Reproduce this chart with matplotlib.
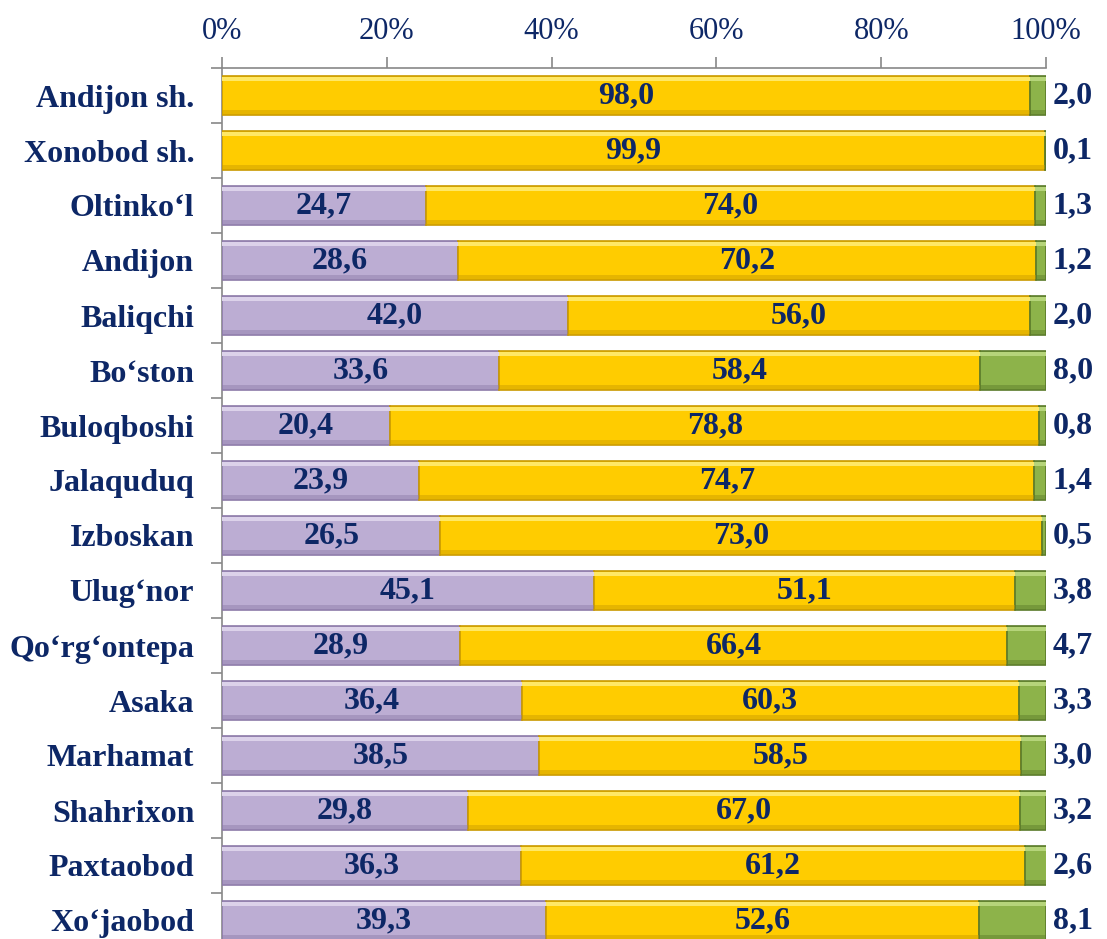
import matplotlib
matplotlib.use("Agg")
import matplotlib.pyplot as plt
import numpy as np

categories = ["Andijon sh.", "Xonobod sh.", "Oltinko‘l", "Andijon", "Baliqchi", "Bo‘ston",
              "Buloqboshi", "Jalaquduq", "Izboskan", "Ulug‘nor", "Qo‘rg‘ontepa", "Asaka",
              "Marhamat", "Shahrixon", "Paxtaobod", "Xo‘jaobod"]
purple_vals = [0.0, 0.0, 24.7, 28.6, 42.0, 33.6, 20.4, 23.9, 26.5, 45.1, 28.9, 36.4, 38.5, 29.8, 36.3, 39.3]
yellow_vals = [98.0, 99.9, 74.0, 70.2, 56.0, 58.4, 78.8, 74.7, 73.0, 51.1, 66.4, 60.3, 58.5, 67.0, 61.2, 52.6]
green_vals = [2.0, 0.1, 1.3, 1.2, 2.0, 8.0, 0.8, 1.4, 0.5, 3.8, 4.7, 3.3, 3.0, 3.2, 2.6, 8.1]
tick_vals = [0, 20, 40, 60, 80, 100]
tick_labels = ["0%", "20%", "40%", "60%", "80%", "100%"]

navy = "#0D2766"
serif = ["Liberation Serif", "DejaVu Serif"]

W, H = 1107, 939
fig = plt.figure(figsize=(W / 100, H / 100), dpi=100)
left, right, top, bottom = 222, 1046, 68, 948
ax = fig.add_axes([left / W, (H - bottom) / H, (right - left) / W, (bottom - top) / H])

n = len(categories)
y = np.arange(n)
purple = np.array(purple_vals)
yellow = np.array(yellow_vals)
green = np.array(green_vals)
h = 0.70

def draw(vals, start, face, edge, hi):
    ax.barh(y, vals, left=start, height=h, color=face, edgecolor=edge, linewidth=1.2, zorder=3)
    ax.barh(y - h / 2 + 0.05, vals, left=start, height=0.08, color=hi, linewidth=0, zorder=4)
    ax.barh(y + h / 2 - 0.05, vals, left=start, height=0.08, color=edge, alpha=0.45, linewidth=0, zorder=4)

draw(purple, 0, "#BCADD3", "#8C7AA8", "#DCD2EA")
draw(yellow, purple, "#FFCC00", "#C99A00", "#FFE866")
draw(green, purple + yellow, "#8DB34A", "#5A7A2A", "#B5D47A")

fs = 23
for i in range(n):
    if purple[i] > 0:
        ax.text(purple[i] / 2, y[i], f"{purple[i]:.1f}".replace(".", ","), ha="center", va="center",
                fontsize=fs, fontweight="bold", color=navy, family=serif, zorder=5)
    ax.text(purple[i] + yellow[i] / 2, y[i], f"{yellow[i]:.1f}".replace(".", ","), ha="center", va="center",
            fontsize=fs, fontweight="bold", color=navy, family=serif, zorder=5)
    ax.text(100.8, y[i], f"{green[i]:.1f}".replace(".", ","), ha="left", va="center",
            fontsize=fs, fontweight="bold", color=navy, family=serif, zorder=5, clip_on=False)

ax.set_xlim(0, 100)
ax.set_ylim(n - 0.5, -0.5)
ax.xaxis.tick_top()
ax.set_xticks(tick_vals)
ax.set_xticklabels(tick_labels, family=serif, fontsize=22, color=navy)
ax.tick_params(axis="x", length=8, width=1.2, color="#888888", pad=8)

ax.set_yticks(y)
ax.set_yticklabels(categories, family=serif, fontsize=fs, fontweight="bold", color=navy)
ax.set_yticks(np.arange(n + 1) - 0.5, minor=True)
ax.tick_params(axis="y", which="major", length=0, pad=20)
ax.tick_params(axis="y", which="minor", length=8, width=1.2, color="#888888")

for s in ["right", "bottom"]:
    ax.spines[s].set_visible(False)
for s in ["top", "left"]:
    ax.spines[s].set_color("#888888")
    ax.spines[s].set_linewidth(1.2)

fig.savefig("out.png", dpi=100)
